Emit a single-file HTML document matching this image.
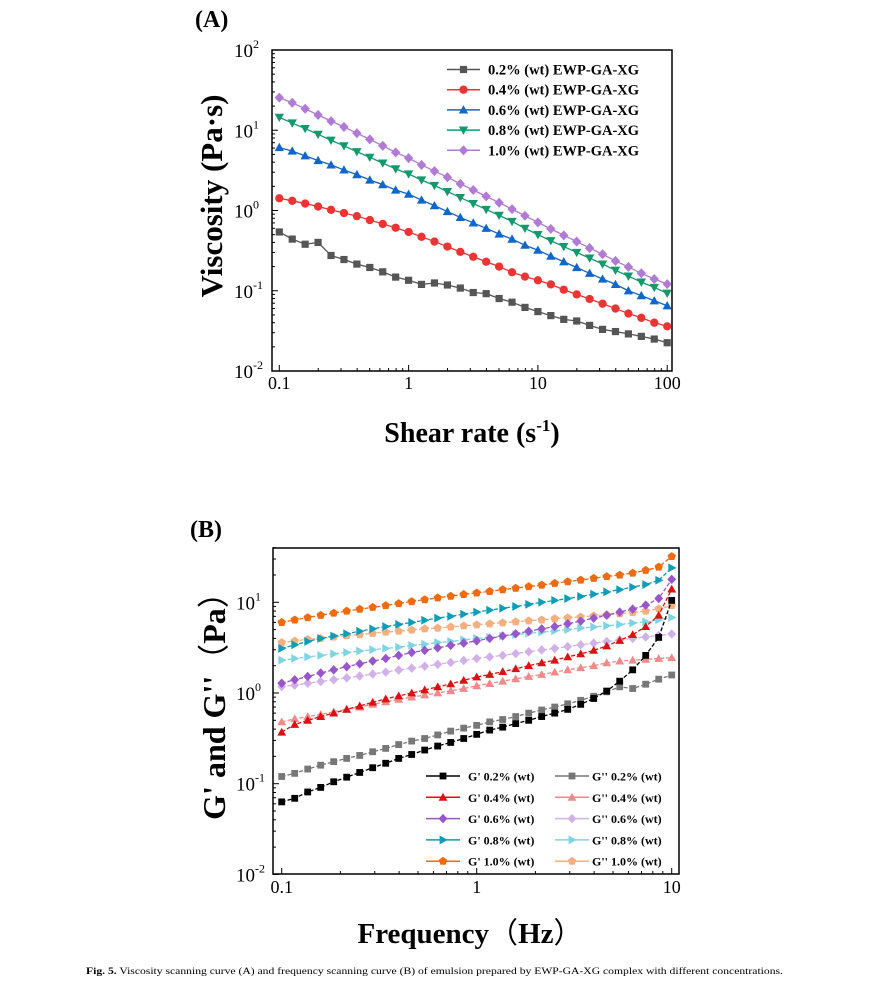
<!DOCTYPE html>
<html><head><meta charset="utf-8"><style>
html,body{margin:0;padding:0;background:#fff;}
svg{display:block;font-family:"Liberation Serif",serif;}
</style></head><body>
<svg id="fig" width="872" height="989" viewBox="0 0 872 989" xmlns="http://www.w3.org/2000/svg">
<text x="195" y="27" font-size="24" font-weight="bold">(A)</text>
<text x="190" y="537" font-size="24" font-weight="bold">(B)</text>
<text x="86" y="974" font-size="9" textLength="697" lengthAdjust="spacingAndGlyphs"><tspan font-weight="bold">Fig. 5.</tspan> Viscosity scanning curve (A) and frequency scanning curve (B) of emulsion prepared by EWP-GA-XG complex with different concentrations.</text>
<g id="pa"></g>
<g id="pb"></g>
</svg>
<script>
// ---- Panel A data ----
const aLabels = ["0.2% (wt) EWP-GA-XG","0.4% (wt) EWP-GA-XG","0.6% (wt) EWP-GA-XG","0.8% (wt) EWP-GA-XG","1.0% (wt) EWP-GA-XG"];
const aGray = [0.54,0.44,0.38,0.40,0.275,0.245,0.215,0.195,0.172,0.148,0.135,0.12,0.125,0.118,0.108,0.095,0.092,0.08,0.072,0.062,0.055,0.049,0.044,0.042,0.037,0.033,0.031,0.029,0.027,0.025,0.0225];
const aRed = [1.42,1.32,1.22,1.12,1.02,0.93,0.85,0.76,0.68,0.61,0.54,0.47,0.41,0.355,0.305,0.265,0.23,0.2,0.17,0.15,0.135,0.12,0.103,0.09,0.079,0.069,0.06,0.052,0.046,0.04,0.036];
const aBlue = [6.1,5.5,4.8,4.2,3.7,3.2,2.8,2.4,2.1,1.8,1.6,1.35,1.15,0.97,0.82,0.7,0.6,0.51,0.44,0.37,0.32,0.27,0.23,0.195,0.165,0.14,0.12,0.1,0.087,0.075,0.065];
const aGreen = [14.5,12.3,10.5,8.9,7.5,6.4,5.4,4.6,3.9,3.3,2.85,2.4,2.05,1.72,1.45,1.22,1.03,0.87,0.73,0.6,0.5,0.42,0.355,0.3,0.255,0.215,0.18,0.152,0.128,0.11,0.093];
const aPurple = [25.5,22,18.5,15.5,13,11,9.2,7.7,6.4,5.3,4.5,3.7,3.1,2.6,2.15,1.8,1.5,1.25,1.04,0.86,0.71,0.59,0.49,0.41,0.34,0.285,0.235,0.198,0.165,0.14,0.121];
const aXTicks = ["0.1","1","10","100"];
const aYTickExp = ["-2","-1","0","1","2"];
// ---- Panel B data ----
const bLabels = ["G' 0.2% (wt)","G'' 0.2% (wt)","G' 0.4% (wt)","G'' 0.4% (wt)","G' 0.6% (wt)","G'' 0.6% (wt)","G' 0.8% (wt)","G'' 0.8% (wt)","G' 1.0% (wt)","G'' 1.0% (wt)"];
const bG1 = [0.063,0.069,0.081,0.091,0.105,0.118,0.133,0.15,0.168,0.19,0.21,0.235,0.26,0.285,0.315,0.35,0.39,0.42,0.46,0.5,0.55,0.6,0.66,0.75,0.87,1.05,1.35,1.8,2.6,4.1,10.5];
const bG1b = [0.12,0.13,0.145,0.16,0.175,0.19,0.205,0.225,0.245,0.27,0.295,0.315,0.345,0.38,0.41,0.44,0.48,0.51,0.55,0.6,0.65,0.7,0.76,0.83,0.92,1.03,1.17,1.12,1.25,1.42,1.58];
const bG2 = [0.37,0.45,0.5,0.55,0.6,0.66,0.72,0.79,0.86,0.93,1.0,1.08,1.17,1.26,1.38,1.5,1.6,1.72,1.85,2.0,2.15,2.3,2.5,2.7,2.95,3.3,3.8,4.4,5.4,7.2,14];
const bG2b = [0.48,0.52,0.55,0.58,0.62,0.66,0.7,0.75,0.8,0.85,0.9,0.95,1.0,1.06,1.12,1.2,1.27,1.35,1.43,1.52,1.6,1.7,1.8,1.9,2.0,2.15,2.25,2.3,2.35,2.4,2.45];
const bG3 = [1.28,1.4,1.52,1.66,1.8,1.95,2.1,2.25,2.4,2.6,2.8,2.95,3.15,3.35,3.55,3.76,4.0,4.25,4.5,4.8,5.1,5.4,5.8,6.2,6.7,7.2,7.8,8.4,9.3,11,17.9];
const bG3b = [1.18,1.22,1.28,1.34,1.4,1.47,1.54,1.62,1.7,1.79,1.88,1.97,2.07,2.17,2.28,2.4,2.5,2.6,2.72,2.85,2.98,3.1,3.25,3.4,3.55,3.7,3.85,4.0,4.15,4.3,4.47];
const bG4 = [3.1,3.4,3.7,4.0,4.25,4.5,4.8,5.1,5.4,5.7,6.0,6.35,6.7,7.0,7.4,7.8,8.2,8.6,9.0,9.5,10,10.5,11,11.6,12.3,13,13.8,14.7,15.7,17.5,24];
const bG4b = [2.3,2.4,2.5,2.6,2.7,2.8,2.9,3.0,3.1,3.2,3.35,3.45,3.6,3.7,3.85,4.0,4.1,4.25,4.4,4.55,4.7,4.85,5.0,5.2,5.35,5.5,5.7,5.9,6.1,6.4,6.8];
const bG5 = [6.0,6.4,6.8,7.2,7.6,8.0,8.4,8.8,9.2,9.7,10.2,10.7,11.2,11.7,12.2,12.7,13.2,13.8,14.3,14.9,15.5,16.2,16.9,17.6,18.4,19.2,20,21,22.5,24.5,32];
const bG5b = [3.6,3.75,3.9,4.0,4.15,4.3,4.4,4.55,4.7,4.8,4.95,5.1,5.2,5.35,5.5,5.65,5.8,5.95,6.1,6.25,6.4,6.6,6.75,6.9,7.1,7.3,7.5,7.7,8.0,8.5,9.2];
const bXTicks = ["0.1","1","10"];
const bYTickExp = ["-2","-1","0","1"];

const NS="http://www.w3.org/2000/svg";
function mk(parent,tag,attrs,text){const e=document.createElementNS(NS,tag);for(const k in attrs)e.setAttribute(k,attrs[k]);if(text!==undefined)e.textContent=text;parent.appendChild(e);return e;}
function marker(g,shape,x,y,c,s){
  let e;
  if(shape==="sq") e=mk(g,"rect",{x:x-s,y:y-s,width:2*s,height:2*s,fill:c});
  else if(shape==="ci") e=mk(g,"circle",{cx:x,cy:y,r:s*1.15,fill:c});
  else if(shape==="tu") e=mk(g,"polygon",{points:`${x},${y-s*1.3} ${x-s*1.3},${y+s} ${x+s*1.3},${y+s}`,fill:c});
  else if(shape==="td") e=mk(g,"polygon",{points:`${x},${y+s*1.3} ${x-s*1.3},${y-s} ${x+s*1.3},${y-s}`,fill:c});
  else if(shape==="di") e=mk(g,"polygon",{points:`${x},${y-s*1.4} ${x+s*1.3},${y} ${x},${y+s*1.4} ${x-s*1.3},${y}`,fill:c});
  else if(shape==="tr") e=mk(g,"polygon",{points:`${x+s*1.4},${y} ${x-s},${y-s*1.3} ${x-s},${y+s*1.3}`,fill:c});
  else e=mk(g,"polygon",{points:[0,1,2,3,4].map(i=>{const a=-Math.PI/2+i*2*Math.PI/5;return (x+s*1.3*Math.cos(a))+","+(y+s*1.3*Math.sin(a));}).join(" "),fill:c});
  
  
}
function axes(g,L,R,T,B,xmin,xmax,ymin,ymax,xpx,ypx){
  const f=mk(g,"rect",{x:L,y:T,width:R-L,height:B-T,fill:"none",stroke:"#000","stroke-width":1.5});
  
  
  for(let d=Math.floor(xmin);d<=xmax;d++)for(let m=1;m<10;m++){const v=d+Math.log10(m);const x=xpx(Math.pow(10,v));if(x<L||x>R)continue;const len=m===1?6:3;mk(g,"line",{x1:x,y1:B,x2:x,y2:B-len,stroke:"#000","stroke-width":1});}
  for(let d=Math.floor(ymin);d<=ymax;d++)for(let m=1;m<10;m++){const v=d+Math.log10(m);const y=ypx(Math.pow(10,v));if(y<T-0.5||y>B+0.5)continue;const len=m===1?6:3;mk(g,"line",{x1:L,y1:y,x2:L+len,y2:y,stroke:"#000","stroke-width":1});}
}
function series(g,xs,ys,xpx,ypx,c,shape,s,dash){
  const pts=ys.map((v,i)=>xpx(xs[i])+","+ypx(v)).join(" ");
  const pl=mk(g,"polyline",{points:pts,fill:"none",stroke:c,"stroke-width":1.3});
  if(dash) pl.setAttribute("stroke-dasharray","4,2");
  
  
  ys.forEach((v,i)=>marker(g,shape,xpx(xs[i]),ypx(v),c,s));
}

// Panel A
(function(){
  const g=document.getElementById("pa");
  const L=272,R=672,T=50,B=371;
  const xpx=v=>279.3+(Math.log10(v)+1)*129.3;
  const ypx=v=>50+(2-Math.log10(v))*80.25;
  axes(g,L,R,T,B,-1,2,-2,2,xpx,ypx);
  const xs=aGray.map((_,i)=>Math.pow(10,-1+i*0.1));
  const sets=[[aGray,"#555555","sq"],[aRed,"#ee3333","ci"],[aBlue,"#1166cc","tu"],[aGreen,"#129a6a","td"],[aPurple,"#b07ad6","di"]];
  sets.forEach(([d,c,sh])=>series(g,xs,d,xpx,ypx,c,sh,3.6,false));
  aXTicks.forEach(t=>{const e=mk(g,"text",{x:xpx(parseFloat(t)),y:389,"font-size":18,"text-anchor":"middle"},t);});
  aYTickExp.forEach(t=>{const y=ypx(Math.pow(10,+t));const e=mk(g,"text",{x:253,y:y+7,"font-size":19,"text-anchor":"end"},"10");mk(g,"text",{x:253,y:y-2,"font-size":12},t);});
  const yt=mk(g,"text",{x:0,y:0,"font-size":31,"font-weight":"bold","text-anchor":"middle",transform:"translate(222,196) rotate(-90)"},"Viscosity (Pa·s)");
  
  const xt=mk(g,"text",{x:472,y:442,"font-size":28,"font-weight":"bold","text-anchor":"middle"});
  
  xt.innerHTML='Shear rate (s<tspan dy="-11" font-size="17">-1</tspan><tspan dy="11">)</tspan>';
  sets.forEach(([d,c,sh],i)=>{const y=69.5+i*20.2;const lg=mk(g,"g",{});mk(lg,"line",{x1:447,y1:y,x2:480,y2:y,stroke:c,"stroke-width":1.5});marker(lg,sh,463.5,y,c,3.6);mk(lg,"text",{x:488,y:y+5,"font-size":14.5,"font-weight":"bold"},aLabels[i]);});
})();

// Panel B
(function(){
  const g=document.getElementById("pb");
  const L=273,R=679,T=548,B=874;
  const xpx=v=>281.7+(Math.log10(v)+1)*195;
  const ypx=v=>602.3+(1-Math.log10(v))*90.7;
  axes(g,L,R,T,B,-1,1,-2,1.6,xpx,ypx);
  const xs=bG1.map((_,i)=>Math.pow(10,-1+i*2/30));
  const sets=[[bG1,"#000000","sq"],[bG1b,"#777777","sq"],[bG2,"#dd1111","tu"],[bG2b,"#f08a8a","tu"],[bG3,"#9955cc","di"],[bG3b,"#d2b0e8","di"],[bG4,"#0e9cb8","tr"],[bG4b,"#7fd4e4","tr"],[bG5,"#f06a10","pe"],[bG5b,"#f6b080","pe"]];
  const order=[1,3,5,7,9,0,2,4,6,8];
  order.forEach(i=>{const [d,c,sh]=sets[i];series(g,xs,d,xpx,ypx,c,sh,3.4,true);});
  bXTicks.forEach(t=>{const e=mk(g,"text",{x:xpx(parseFloat(t)),y:893,"font-size":18,"text-anchor":"middle"},t);});
  bYTickExp.forEach(t=>{const y=ypx(Math.pow(10,+t));const e=mk(g,"text",{x:255,y:y+7,"font-size":19,"text-anchor":"end"},"10");mk(g,"text",{x:255,y:y-2,"font-size":12},t);});
  const yt=mk(g,"text",{x:0,y:0,"font-size":32,"font-weight":"bold","text-anchor":"middle",transform:"translate(225,698) rotate(-90)"});
  
  yt.innerHTML='G\' and G\'\'<tspan font-family="Noto Sans CJK SC, sans-serif" font-weight="normal">（</tspan>Pa<tspan font-family="Noto Sans CJK SC, sans-serif" font-weight="normal">）</tspan>';
  const xt=mk(g,"text",{x:470,y:943,"font-size":29,"font-weight":"bold","text-anchor":"middle"});
  
  xt.innerHTML='Frequency<tspan font-family="Noto Sans CJK SC, sans-serif" font-weight="normal">（</tspan>Hz<tspan font-family="Noto Sans CJK SC, sans-serif" font-weight="normal">）</tspan>';
  sets.forEach(([d,c,sh],i)=>{const col=i%2,row=Math.floor(i/2);const y=776+row*21.3;const x0=col?555:426;const lg=mk(g,"g",{});mk(lg,"line",{x1:x0,y1:y,x2:x0+34,y2:y,stroke:c,"stroke-width":1.5});marker(lg,sh,x0+17,y,c,3.4);mk(lg,"text",{x:x0+(col?37:42),y:y+4.5,"font-size":12,"font-weight":"bold"},bLabels[i]);});
})();
</script>
</body></html>
